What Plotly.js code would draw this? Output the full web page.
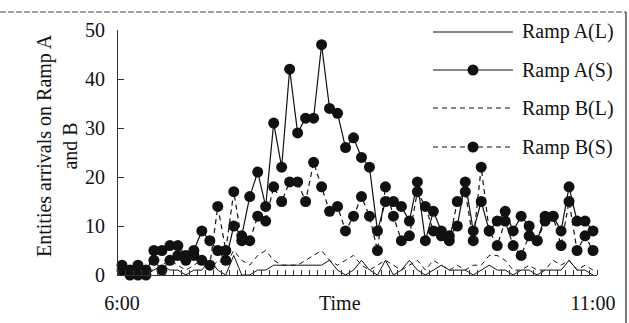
<!DOCTYPE html>
<html>
<head>
<meta charset="utf-8">
<script src="https://cdn.plot.ly/plotly-3.0.1.min.js"></script>
<style>html,body{margin:0;padding:0;background:#fff;}#chart{width:629px;height:323px;}</style>
</head>
<body>
<div id="chart"></div>
<script>
// Series names
const seriesNames = ['Ramp A(L)', 'Ramp A(S)', 'Ramp B(L)', 'Ramp B(S)'];
// X tick labels (first and last interval)
const xTickLabels = ['6:00', '11:00'];
const yTickValues = [0, 10, 20, 30, 40, 50];

// Ramp A(L)
const rampAL = [1,1,1,1,1,2,1,1,0,1,1,3,1,0,4,0,0,1,1,2,2,2,2,2,2,2,3,1,0,1,3,1,0,3,0,1,3,1,0,1,2,1,1,1,0,1,2,1,1,0,1,1,0,1,1,1,3,1,1,0];
// Ramp A(S)
const rampAS = [2,0,2,0,5,5,6,6,4,5,9,7,5,3,10,8,16,21,14,31,22,42,29,32,32,47,34,33,26,28,24,22,9,15,15,14,11,19,7,13,9,8,10,19,9,15,9,11,13,9,12,10,7,12,12,9,18,11,11,9];
// Ramp B(L)
const rampBL = [0,0,0,0,1,2,3,2,1,2,3,1,3,2,5,3,2,4,5,3,2,2,2,3,4,5,3,2,3,4,2,1,2,3,2,1,2,3,1,3,2,1,2,1,2,2,4,4,3,1,1,2,1,1,3,2,3,1,2,1];
// Ramp B(S)
const rampBS = [1,1,0,1,3,1,3,4,3,4,3,2,14,5,17,7,7,12,11,18,15,19,19,15,23,18,13,14,9,12,16,12,5,18,12,7,8,17,14,9,8,7,15,17,7,22,9,6,11,6,4,8,7,11,12,6,15,5,8,5];

const xIdx = rampAS.map((_, i) => i);
const FONT = 'Liberation Serif, Times New Roman, serif';
const INK = '#111';

const traces = [
  {x: xIdx, y: rampAL, name: seriesNames[0], type: 'scatter', mode: 'lines',
   line: {color: INK, width: 1}, cliponaxis: false},
  {x: xIdx, y: rampBL, name: seriesNames[2], type: 'scatter', mode: 'lines',
   line: {color: INK, width: 1, dash: '5px,4px'}, cliponaxis: false},
  {x: xIdx, y: rampAS, name: seriesNames[1], type: 'scatter', mode: 'lines+markers',
   line: {color: INK, width: 1.2}, marker: {color: INK, size: 11, symbol: 'circle'}, cliponaxis: false},
  {x: xIdx, y: rampBS, name: seriesNames[3], type: 'scatter', mode: 'lines+markers',
   line: {color: INK, width: 1.2, dash: '5px,4px'}, marker: {color: INK, size: 11, symbol: 'circle'}, cliponaxis: false}
];

// plot area geometry (px) for custom legend/frame placement
const L = 118, R = 597, T = 30, B = 275;
const px = p => (p - L) / (R - L);
const py = q => (B - q) / (B - T);

const legendRows = [32, 70, 108, 147];
const legendDash = ['solid', 'solid', '5px,4px', '5px,4px'];
const legendMarker = [false, true, false, true];
const shapes = [];
const annotations = [];
legendRows.forEach((row, k) => {
  shapes.push({type: 'line', xref: 'paper', yref: 'paper', x0: px(433), x1: px(513), y0: py(row), y1: py(row),
    line: {color: INK, width: 1, dash: legendDash[k]}});
  if (legendMarker[k]) {
    shapes.push({type: 'circle', xref: 'paper', yref: 'paper', xsizemode: 'pixel', ysizemode: 'pixel',
      xanchor: px(473), yanchor: py(row), x0: -5.5, x1: 5.5, y0: -5.5, y1: 5.5,
      fillcolor: INK, line: {color: INK, width: 0}});
  }
  annotations.push({xref: 'paper', yref: 'paper', x: px(520), y: py(row), xanchor: 'left', yanchor: 'middle',
    text: [seriesNames[0], seriesNames[1], seriesNames[2], seriesNames[3]][k], showarrow: false,
    font: {family: FONT, size: 20, color: INK}});
});
// outer frame (top and right edges)
shapes.push({type: 'line', xref: 'paper', yref: 'paper', x0: px(0), x1: px(626), y0: py(12), y1: py(12),
  line: {color: '#444', width: 1, dash: '6px,2px'}});
shapes.push({type: 'line', xref: 'paper', yref: 'paper', x0: px(626), x1: px(626), y0: py(12), y1: py(323),
  line: {color: '#222', width: 1.2}});

// axis titles
annotations.push({xref: 'paper', yref: 'paper', x: px(340), y: py(303), xanchor: 'center', yanchor: 'middle',
  text: 'Time', showarrow: false, font: {family: FONT, size: 20, color: INK}});
annotations.push({xref: 'paper', yref: 'paper', x: px(57), y: py(145), xanchor: 'center', yanchor: 'middle',
  text: 'Entities arrivals on Ramp A<br>and B', textangle: -90, showarrow: false,
  font: {family: FONT, size: 20, color: INK}});

const layout = {
  width: 629, height: 323,
  margin: {l: L, r: 629 - R, t: T, b: 323 - B, pad: 0},
  paper_bgcolor: '#fff', plot_bgcolor: '#fff',
  showlegend: false,
  font: {family: FONT, size: 20, color: INK},
  xaxis: {
    range: [-0.5, 59.5], showgrid: false, zeroline: false,
    showline: true, linecolor: '#333', linewidth: 1,
    tickmode: 'array', tickvals: [0, 59], ticktext: xTickLabels, ticks: '',
    tickfont: {family: FONT, size: 20, color: INK},
    ticklabelstandoff: 10,
    minor: {tickmode: 'linear', tick0: -0.5, dtick: 1, ticks: 'inside', ticklen: 5, tickcolor: '#333', tickwidth: 1, showgrid: false}
  },
  yaxis: {
    range: [0, 50], tickvals: yTickValues, showgrid: false, zeroline: false,
    showline: true, linecolor: '#333', linewidth: 1,
    ticks: 'inside', ticklen: 6, tickcolor: '#333',
    tickfont: {family: FONT, size: 20, color: INK},
    ticklabelstandoff: 8
  },
  shapes: shapes,
  annotations: annotations
};

Plotly.newPlot('chart', traces, layout, {staticPlot: true, displayModeBar: false});
</script>
</body>
</html>
